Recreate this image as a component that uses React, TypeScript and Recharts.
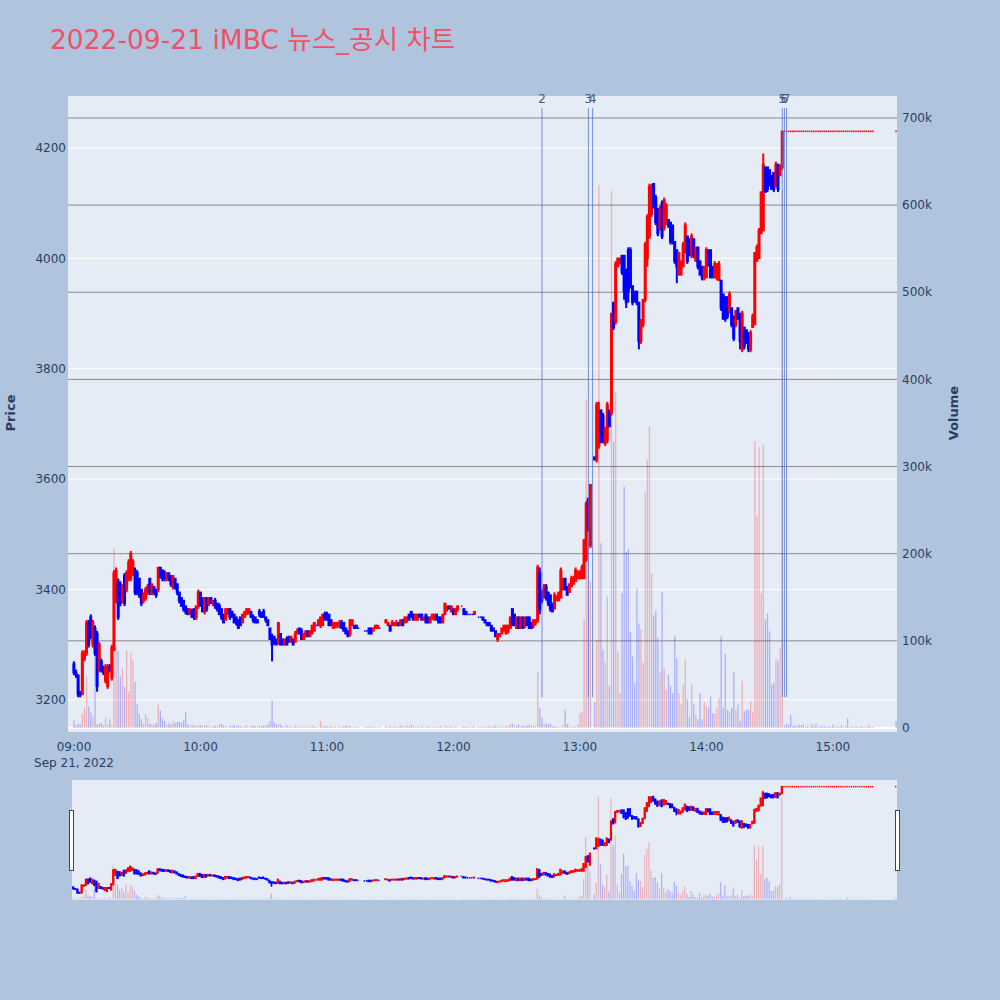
import React from 'react';
import { ComposedChart, Bar, XAxis, YAxis, CartesianGrid, ReferenceLine } from 'recharts';

type Row = [number, number, number, number, number] | null; // open, high, low, close, volume

// 09:00 - 09:59
const H09: Row[] = [
  [3265,3270,3245,3250,9000],[3250,3255,3240,3245,3000],[3245,3245,3205,3210,5000],[3215,3215,3205,3210,4000],[3210,3290,3210,3285,16000],
  [3275,3290,3270,3285,23000],[3285,3345,3280,3340,59000],[3340,3345,3295,3300,25000],[3350,3355,3310,3315,18000],[3300,3345,3295,3340,13000],
  [3330,3335,3280,3285,93000],[3320,3325,3215,3225,4000],[3255,3305,3250,3300,5000],[3270,3275,3250,3255,6000],[3260,3262,3245,3250,3000],
  [3235,3265,3230,3260,12000],[3225,3265,3220,3260,4000],[3260,3265,3250,3255,10000],[3240,3300,3235,3295,3000],[3290,3435,3290,3430,206000],
  [3380,3440,3375,3435,93000],[3415,3420,3345,3350,88000],[3410,3415,3370,3375,59000],[3380,3410,3375,3405,68000],[3425,3430,3370,3375,47000],
  [3400,3435,3395,3430,89000],[3420,3455,3415,3450,42000],[3420,3470,3415,3465,86000],[3430,3455,3425,3450,78000],[3435,3440,3390,3395,53000],
  [3430,3435,3390,3395,27000],[3420,3420,3385,3390,16000],[3400,3400,3370,3375,10000],[3380,3395,3375,3390,5000],[3385,3405,3380,3400,16000],
  [3395,3410,3390,3405,11000],[3420,3420,3390,3395,5000],[3395,3410,3390,3410,5000],[3405,3405,3390,3395,3000],[3400,3400,3385,3390,6000],
  [3400,3440,3395,3440,27000],[3440,3440,3420,3425,20000],[3435,3435,3415,3420,11000],[3430,3435,3415,3420,8000],[3420,3430,3415,3430,4000],
  [3430,3430,3415,3420,6000],[3425,3425,3405,3410,4000],[3405,3425,3400,3425,8000],[3420,3420,3400,3405,6000],[3410,3410,3390,3395,7000],
  [3395,3395,3375,3380,7000],[3385,3385,3370,3370,6000],[3380,3380,3360,3365,9000],[3370,3370,3355,3360,18000],[3365,3365,3355,3355,4000],
  [3355,3365,3355,3365,2000],[3360,3365,3350,3350,3000],[3365,3365,3345,3350,3000],[3350,3370,3345,3370,2000],[3370,3400,3365,3395,3000],
];
// 10:00 - 10:59
const H10: Row[] = [
  [3395,3395,3370,3370,3000],[3385,3385,3360,3360,2000],[3360,3385,3355,3385,4000],[3385,3385,3360,3365,3000],[3375,3385,3370,3385,2000],
  [3385,3385,3375,3375,1000],[3375,3380,3370,3380,2000],[3380,3385,3365,3370,3000],[3375,3375,3360,3365,2000],[3370,3375,3355,3355,4000],
  [3365,3365,3345,3350,5000],[3355,3355,3340,3340,3000],[3345,3365,3345,3365,2000],[3355,3365,3355,3365,1000],[3365,3365,3345,3350,3000],
  [3360,3360,3350,3350,2000],[3355,3355,3340,3340,4000],[3350,3350,3335,3340,2000],[3345,3345,3330,3330,3000],[3350,3350,3335,3335,2000],
  [3340,3355,3340,3355,1000],[3350,3360,3350,3360,2000],[3355,3365,3355,3365,3000],[3360,3365,3355,3365,1000],[3360,3360,3350,3350,2000],
  [3350,3355,3340,3345,3000],[3350,3350,3340,3340,2000],[3345,3345,3340,3340,1000],[3360,3365,3350,3355,3000],[3355,3360,3350,3350,2000],
  [3360,3365,3350,3350,3000],[3350,3350,3340,3345,2000],[3345,3345,3335,3335,4000],[3330,3330,3310,3310,8000],[3315,3320,3270,3300,32000],
  [3315,3315,3300,3305,7000],[3310,3310,3300,3300,4000],[3305,3340,3300,3340,5000],[3320,3320,3300,3300,4000],[3310,3310,3300,3300,2000],
  [3300,3310,3300,3310,2000],[3310,3315,3300,3300,3000],[3315,3315,3305,3305,1000],[3305,3315,3305,3315,2000],[3310,3310,3300,3300,1000],
  [3305,3325,3305,3320,3000],[3320,3330,3320,3325,2000],[3330,3330,3320,3320,1000],[3325,3330,3310,3310,2000],[3310,3320,3310,3320,1000],
  [3315,3325,3315,3325,2000],[3325,3325,3315,3315,1000],[3315,3325,3315,3325,2000],[3320,3335,3320,3335,3000],[3325,3340,3325,3340,2000],
  [3335,3335,3335,3335,1000],[3335,3345,3335,3345,1000],[3335,3350,3330,3350,8000],[3335,3355,3335,3355,3000],[3355,3360,3345,3345,2000],
];
// 11:00 - 11:59
const H11: Row[] = [
  [3355,3360,3345,3345,2000],[3355,3355,3335,3335,1000],[3345,3345,3335,3335,2000],[3330,3340,3330,3340,1000],[3335,3340,3330,3340,2000],
  [3335,3340,3330,3340,1000],[3335,3345,3330,3340,2000],[3340,3345,3330,3330,1000],[3340,3340,3325,3325,2000],[3330,3330,3320,3320,3000],
  [3325,3325,3315,3315,2000],[3320,3345,3315,3345,3000],[3335,3345,3335,3345,1000],[3335,3335,3330,3330,1000],[3335,3335,3330,3330,1000],
  [3330,3330,3330,3330,1000],null,null,[3325,3325,3325,3325,1000],[3325,3325,3325,3325,1000],
  [3330,3330,3320,3320,2000],[3330,3330,3320,3320,1000],[3325,3330,3325,3330,2000],[3330,3335,3330,3335,1000],[3330,3335,3330,3335,1000],
  [3330,3330,3330,3330,1000],null,null,[3340,3345,3340,3345,2000],[3335,3340,3335,3340,1000],
  [3335,3335,3325,3325,2000],[3335,3345,3335,3340,1000],[3335,3340,3335,3340,2000],[3335,3345,3335,3340,1000],[3340,3340,3335,3335,2000],
  [3335,3345,3335,3345,3000],[3345,3345,3335,3335,2000],[3340,3350,3340,3350,1000],[3345,3350,3340,3350,3000],[3355,3355,3345,3345,2000],
  [3360,3360,3350,3350,4000],[3355,3355,3345,3345,2000],[3345,3355,3345,3355,1000],[3345,3355,3345,3355,2000],[3355,3355,3350,3350,1000],
  [3355,3355,3345,3345,2000],[3345,3350,3345,3350,1000],[3355,3355,3340,3340,1000],[3350,3350,3340,3340,2000],[3340,3350,3340,3350,1000],
  [3350,3355,3345,3355,1000],[3345,3355,3345,3355,2000],[3355,3355,3345,3345,1000],[3350,3350,3340,3340,1000],[3350,3350,3340,3340,2000],
  [3340,3355,3340,3355,1000],[3355,3375,3355,3375,3000],[3365,3370,3360,3370,2000],[3370,3370,3365,3365,1000],[3360,3370,3360,3370,2000],
];
// 12:00 - 12:59
const H12: Row[] = [
  [3365,3365,3355,3355,1000],[3355,3365,3355,3365,2000],[3365,3370,3360,3370,1000],null,[3370,3370,3370,3370,1000],
  [3365,3365,3355,3355,2000],[3360,3360,3355,3355,1000],[3355,3355,3355,3355,1000],[3355,3355,3355,3355,1000],[3355,3355,3355,3355,1000],
  [3355,3360,3355,3360,2000],null,[3350,3350,3350,3350,1000],[3350,3350,3350,3350,1000],[3350,3350,3345,3345,1000],
  [3345,3345,3340,3340,2000],[3340,3340,3335,3335,1000],[3340,3340,3335,3335,2000],[3335,3335,3325,3325,1000],[3330,3330,3325,3325,2000],
  [3325,3325,3315,3315,3000],[3310,3320,3305,3320,2000],[3315,3320,3315,3320,1000],[3320,3330,3320,3330,2000],[3325,3335,3325,3335,1000],
  [3320,3335,3320,3335,3000],[3325,3335,3320,3335,2000],[3330,3350,3330,3350,4000],[3365,3365,3335,3335,5000],[3355,3355,3335,3335,2000],
  [3330,3350,3330,3350,3000],[3350,3350,3330,3330,4000],[3330,3350,3330,3350,2000],[3350,3350,3330,3330,3000],[3335,3350,3330,3350,2000],
  [3350,3350,3335,3335,3000],[3350,3350,3330,3330,4000],[3340,3340,3330,3330,2000],[3335,3345,3330,3345,3000],[3340,3345,3335,3345,2000],
  [3345,3445,3340,3440,64000],[3430,3440,3355,3365,23000],[3395,3400,3375,3380,12000],[3385,3410,3385,3405,5000],[3405,3410,3380,3385,5000],
  [3395,3395,3370,3375,4000],[3390,3390,3360,3365,5000],[3375,3375,3360,3360,2000],[3365,3395,3365,3390,2000],[3380,3390,3380,3385,2000],
  [3380,3395,3380,3395,1000],[3385,3440,3385,3435,1000],[3400,3420,3400,3420,3000],[3420,3420,3400,3400,21000],[3405,3405,3390,3390,5000],
  [3395,3410,3395,3410,3000],[3405,3425,3405,3420,1000],[3410,3425,3410,3420,2000],[3415,3440,3415,3435,1000],[3420,3435,3420,3430,4000],
];
// 13:00 - 13:59
const H13: Row[] = [
  [3420,3435,3420,3430,17000],[3420,3445,3420,3440,19000],[3420,3490,3420,3490,125000],[3455,3560,3450,3555,377000],[3565,3565,3505,3510,264000],
  [3480,3590,3475,3590,168000],null,[3640,3640,3635,3635,30000],[3635,3740,3630,3735,101000],[3660,3740,3655,3725,623000],
  [3725,3725,3665,3670,212000],[3715,3720,3665,3670,90000],[3665,3695,3660,3690,75000],[3670,3740,3665,3735,151000],[3725,3725,3695,3695,48000],
  [3720,3900,3715,3900,616000],[3920,3920,3870,3875,329000],[3885,3995,3880,3990,385000],[3985,4000,3985,4000,88000],[3990,4000,3990,4000,40000],
  [4005,4005,3970,3975,155000],[4005,4005,3925,3940,277000],[3980,3980,3910,3920,202000],[4015,4020,3920,3940,205000],[4015,4020,3945,3950,110000],
  [3950,3950,3915,3920,82000],[3940,3940,3920,3925,52000],[3940,3940,3915,3920,160000],[3920,3920,3835,3850,120000],[3850,3890,3845,3885,113000],
  [3880,3925,3875,3925,75000],[3925,4030,3920,4025,271000],[4000,4080,3985,4075,308000],[4040,4135,4035,4130,346000],[4080,4135,4075,4130,177000],
  [4135,4135,4090,4095,129000],[4110,4115,4060,4065,135000],[4090,4090,4040,4045,103000],[4055,4095,4050,4090,64000],[4100,4105,4035,4040,156000],
  [4055,4110,4050,4105,69000],[4065,4100,4060,4095,44000],[4070,4070,4055,4060,61000],[4065,4065,4025,4030,48000],[4060,4060,4025,4030,40000],
  [4030,4030,3990,3995,106000],[4015,4015,3955,3985,80000],[3970,4010,3970,4010,40000],[3970,3995,3970,3995,27000],[3985,4030,3985,4025,50000],
  [4010,4065,4010,4060,79000],[4040,4040,3990,3995,33000],[4035,4035,4005,4005,13000],[4005,4045,4000,4040,50000],[4035,4035,4000,4005,27000],
  [3995,4020,3995,4020,15000],[4020,4020,3980,3985,10000],[3995,3995,3970,3970,40000],[3985,3985,3960,3965,10000],[3965,3985,3960,3985,30000],
];
// 14:00 - 14:59
const H14: Row[] = [
  [3965,4020,3965,4015,25000],[4015,4015,3985,3990,23000],[4015,4015,3965,3965,36000],[3985,3985,3965,3965,17000],[3965,3995,3965,3990,17000],
  [3965,3990,3960,3990,23000],[3960,3995,3960,3990,34000],[3960,3960,3905,3910,105000],[3935,3935,3890,3890,23000],[3930,3930,3885,3890,85000],
  [3930,3930,3890,3895,21000],[3905,3940,3900,3935,19000],[3910,3910,3875,3880,23000],[3895,3895,3850,3855,64000],[3880,3905,3875,3905,21000],
  [3910,3910,3890,3890,27000],[3900,3900,3835,3850,8000],[3835,3905,3830,3900,54000],[3875,3875,3835,3840,19000],[3870,3870,3845,3850,21000],
  [3865,3865,3830,3835,21000],[3835,3870,3830,3865,31000],[3875,3900,3875,3895,19000],[3880,4010,3880,4010,329000],[3995,4025,3995,4020,243000],
  [4000,4055,4000,4050,322000],[4045,4120,4045,4120,155000],[4050,4190,4050,4170,325000],[4165,4165,4120,4120,125000],[4165,4165,4120,4125,131000],
  [4160,4160,4130,4135,111000],[4150,4150,4125,4125,50000],[4155,4155,4120,4125,52000],[4130,4175,4130,4170,79000],[4170,4170,4120,4125,77000],
  [4150,4170,4150,4165,92000],[4165,4230,4160,4230,617000],[4230,4230,4230,4230,3000],[4230,4230,4230,4230,5000],[4230,4230,4230,4230,4000],
  [4230,4230,4230,4230,15000],[4230,4230,4230,4230,2000],[4230,4230,4230,4230,3000],[4230,4230,4230,4230,2000],[4230,4230,4230,4230,4000],
  [4230,4230,4230,4230,3000],[4230,4230,4230,4230,4000],[4230,4230,4230,4230,1000],[4230,4230,4230,4230,2000],[4230,4230,4230,4230,1000],
  [4230,4230,4230,4230,4000],[4230,4230,4230,4230,2000],[4230,4230,4230,4230,5000],[4230,4230,4230,4230,1000],[4230,4230,4230,4230,2000],
  [4230,4230,4230,4230,2000],[4230,4230,4230,4230,2000],[4230,4230,4230,4230,1000],[4230,4230,4230,4230,2000],[4230,4230,4230,4230,1000],
];
// 15:00 - 15:30
const H15: Row[] = [
  [4230,4230,4230,4230,4000],[4230,4230,4230,4230,1000],[4230,4230,4230,4230,2000],[4230,4230,4230,4230,1000],[4230,4230,4230,4230,3000],
  [4230,4230,4230,4230,1000],[4230,4230,4230,4230,2000],[4230,4230,4230,4230,11000],[4230,4230,4230,4230,1000],[4230,4230,4230,4230,2000],
  [4230,4230,4230,4230,1000],[4230,4230,4230,4230,2000],[4230,4230,4230,4230,1000],[4230,4230,4230,4230,1000],[4230,4230,4230,4230,2000],
  [4230,4230,4230,4230,1000],[4230,4230,4230,4230,1000],[4230,4230,4230,4230,3000],[4230,4230,4230,4230,1000],[4230,4230,4230,4230,1000],
  null,null,null,null,null,null,null,null,null,null,
  [4230,4230,4230,4230,8000],
];

const PRICE_TICKS = [3200, 3400, 3600, 3800, 4000, 4200];
const VOLUME_TICKS = [0, 100000, 200000, 300000, 400000, 500000, 600000, 700000];
const TIME_TICKS = [0, 60, 120, 180, 240, 300, 360];
const TIME_LABELS = ['09:00', '10:00', '11:00', '12:00', '13:00', '14:00', '15:00'];
const DATE_LABEL = 'Sep 21, 2022';
const EVENT_MINUTES = [222, 244, 246, 336, 337, 338];
const EVENT_LABELS = ['2', '3', '4', '5', '6', '7'];
const TITLE = '2022-09-21 iMBC 뉴스_공시 차트';

const UP = '#ff0000';
const DOWN = '#0000ff';
const FONT = '"DejaVu Sans", "Noto Sans CJK KR", sans-serif';
const TXT = '#2a3f5f';

type Point = { t: number; o?: number; h?: number; l?: number; c?: number; range: number[] | null; vol: number | null; up?: boolean; volUp?: boolean };

function buildRows(): Point[] {
  const all = [...H09, ...H10, ...H11, ...H12, ...H13, ...H14, ...H15];
  let prevClose: number | null = null;
  let prevUp = true;
  return all.map((r, t) => {
    if (!r) return { t, range: null, vol: null };
    const [o, h, l, c, v] = r;
    let up: boolean;
    if (c > o) up = true;
    else if (c < o) up = false;
    else if (prevClose !== null && c !== prevClose) up = c > prevClose;
    else up = prevUp;
    prevClose = c;
    prevUp = up;
    return { t, o, h, l, c, range: [l, h], vol: v, up, volUp: c > o };
  });
}

const ROWS = buildRows();
const LOWS = ROWS.filter((r) => r.l !== undefined).map((r) => r.l as number);
const HIGHS = ROWS.filter((r) => r.h !== undefined).map((r) => r.h as number);
const MIN_LOW = Math.min(...LOWS);
const MAX_HIGH = Math.max(...HIGHS);

const PRICE_DOMAIN: [number, number] = [3142, 4294];
const VOL_DOMAIN: [number, number] = [-4600, 725200];

function makeCandle(bodyW: number, wickW: number, flatW: number) {
  return (props: any) => {
    const { x, y, width, height, payload } = props;
    if (!payload || payload.o === undefined || x == null || y == null) return <g />;
    const cx = x + (width || 0) / 2;
    const top = Math.min(y, y + (height || 0));
    const hh = Math.abs(height || 0);
    const { o, h: hi, l, c, up } = payload;
    const color = up ? UP : DOWN;
    const span = hi - l;
    if (span === 0) {
      return <rect x={cx - flatW / 2} y={top - 0.8} width={flatW} height={1.6} fill={color} />;
    }
    const py = (v: number) => top + ((hi - v) / span) * hh;
    const bTop = Math.min(py(o), py(c));
    const bBot = Math.max(py(o), py(c));
    return (
      <g>
        <rect x={cx - wickW / 2} y={top} width={wickW} height={hh} fill={color} />
        <rect x={cx - bodyW / 2} y={bTop - 0.75} width={bodyW} height={bBot - bTop + 1.5} fill={color} />
      </g>
    );
  };
}

function makeVolume(w: number) {
  return (props: any) => {
    const { x, y, width, height, payload } = props;
    if (!payload || payload.vol == null || x == null || y == null) return <g />;
    const cx = x + (width || 0) / 2;
    const top = Math.min(y, y + (height || 0));
    const hh = Math.abs(height || 0);
    return <rect x={cx - w / 2} y={top} width={w} height={hh} fill={payload.volUp ? 'rgba(255,0,0,0.25)' : 'rgba(0,0,255,0.25)'} />;
  };
}

const MainCandle = makeCandle(3, 2, 1.5);
const MainVolume = makeVolume(1.3);
const MiniCandle = makeCandle(2.2, 1.6, 1.3);
const MiniVolume = makeVolume(1.2);

const TimeTick = (props: any) => {
  const { x, y, payload } = props;
  const i = TIME_TICKS.indexOf(payload.value);
  return (
    <g>
      <text x={x} y={y - 11} textAnchor="middle" fill={TXT} fontSize={12} fontFamily={FONT}>{TIME_LABELS[i]}</text>
      {i === 0 && <text x={x} y={y + 5} textAnchor="middle" fill={TXT} fontSize={12} fontFamily={FONT}>{DATE_LABEL}</text>}
    </g>
  );
};

const PriceTick = (props: any) => {
  const { x, y, payload } = props;
  return <text x={x} y={y} dy="0.35em" textAnchor="end" fill={TXT} fontSize={12} fontFamily={FONT}>{payload.value}</text>;
};

const VolTick = (props: any) => {
  const { x, y, payload } = props;
  const v = payload.value as number;
  return <text x={x} y={y} dy="0.35em" textAnchor="start" fill={TXT} fontSize={12} fontFamily={FONT}>{v === 0 ? '0' : `${v / 1000}k`}</text>;
};

const handleStyle: React.CSSProperties = {
  position: 'absolute', top: 810, width: 3, height: 59, background: '#fff', border: '1px solid #444',
};

export default function App() {
  return (
    <div style={{ position: 'absolute', left: 0, top: 0, width: 1000, height: 1000, background: '#b0c4de', overflow: 'hidden' }}>
      <div style={{ position: 'absolute', left: 50, top: 21, fontSize: 26.5, color: '#ef5266', fontFamily: FONT, whiteSpace: 'nowrap', lineHeight: '38px' }}>{TITLE}</div>
      <div style={{ position: 'absolute', left: 10, top: 413, transform: 'translate(-50%, -50%) rotate(-90deg)', fontSize: 13, fontWeight: 'bold', color: TXT, fontFamily: FONT }}>Price</div>
      <div style={{ position: 'absolute', left: 953, top: 413, transform: 'translate(-50%, -50%) rotate(-90deg)', fontSize: 13, fontWeight: 'bold', color: TXT, fontFamily: FONT }}>Volume</div>

      <div style={{ position: 'absolute', left: 0, top: 0 }}>
        <ComposedChart width={1000} height={780} data={ROWS} margin={{ top: 96, left: 8, right: 43, bottom: 8 }}>
          <XAxis xAxisId="main" dataKey="t" type="number" domain={[-2.85, 390.4]} allowDataOverflow ticks={TIME_TICKS} tick={<TimeTick />} tickLine={false} axisLine={false} tickSize={0} tickMargin={0} height={40} interval={0} />
          <XAxis xAxisId="aux" dataKey="t" type="number" domain={[-2.85, 390.4]} allowDataOverflow hide />
          <YAxis yAxisId="price" orientation="left" domain={PRICE_DOMAIN} allowDataOverflow ticks={PRICE_TICKS} tick={<PriceTick />} tickLine={false} axisLine={false} tickSize={0} tickMargin={2} width={60} interval={0} />
          <YAxis yAxisId="vol" orientation="right" domain={VOL_DOMAIN} allowDataOverflow ticks={VOLUME_TICKS} tick={<VolTick />} tickLine={false} axisLine={false} tickSize={0} tickMargin={5} width={60} interval={0} />
          <CartesianGrid xAxisId="main" yAxisId="price" vertical={false} stroke="#ffffff" strokeWidth={1} horizontalValues={PRICE_TICKS} fill="#e5ecf6" fillOpacity={1} />
          <CartesianGrid xAxisId="main" yAxisId="vol" vertical={false} stroke="#8a8a8a" strokeWidth={1} horizontalValues={VOLUME_TICKS.slice(1)} />
          <CartesianGrid xAxisId="main" yAxisId="vol" vertical={false} stroke="#ffffff" strokeWidth={2} horizontalValues={[0]} />
          <Bar xAxisId="aux" yAxisId="vol" dataKey="vol" barSize={2} shape={MainVolume} isAnimationActive={false} />
          <Bar xAxisId="main" yAxisId="price" dataKey="range" barSize={3} shape={MainCandle} isAnimationActive={false} />
          {EVENT_MINUTES.map((m, i) => (
            <ReferenceLine
              key={EVENT_LABELS[i]}
              xAxisId="main"
              yAxisId="price"
              segment={[{ x: m, y: MIN_LOW }, { x: m, y: MAX_HIGH * 1.01 }]}
              stroke="#4f6fd0"
              strokeOpacity={0.75}
              strokeWidth={1}
              label={{ value: EVENT_LABELS[i], position: 'top', offset: 5, fill: '#4a5a78', fontSize: 12, fontFamily: FONT }}
            />
          ))}
        </ComposedChart>
      </div>

      <div style={{ position: 'absolute', left: 72, top: 780, width: 825, height: 120, background: '#e5ecf6' }}>
        <ComposedChart width={825} height={120} data={ROWS} margin={{ top: 0, left: 0, right: 0, bottom: 0 }}>
          <XAxis xAxisId="main" dataKey="t" type="number" domain={[-0.6, 390.6]} allowDataOverflow hide />
          <XAxis xAxisId="aux" dataKey="t" type="number" domain={[-0.6, 390.6]} allowDataOverflow hide />
          <YAxis yAxisId="price" domain={PRICE_DOMAIN} allowDataOverflow hide />
          <YAxis yAxisId="vol" domain={VOL_DOMAIN} allowDataOverflow hide />
          <Bar xAxisId="aux" yAxisId="vol" dataKey="vol" barSize={2} shape={MiniVolume} isAnimationActive={false} />
          <Bar xAxisId="main" yAxisId="price" dataKey="range" barSize={2} shape={MiniCandle} isAnimationActive={false} />
        </ComposedChart>
      </div>
      <div style={{ ...handleStyle, left: 69 }} />
      <div style={{ ...handleStyle, left: 895 }} />
    </div>
  );
}
